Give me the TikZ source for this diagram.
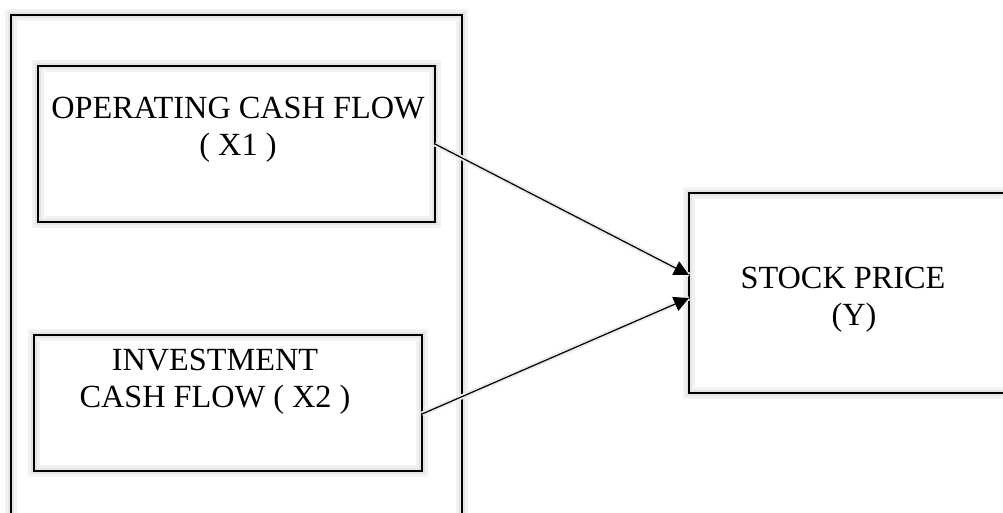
\documentclass[tikz,border=0pt]{standalone}
\usepackage{fontspec}
\setmainfont{Liberation Serif}
\usetikzlibrary{arrows.meta}
\tikzset{
glow/.style={preaction={draw=black!5, line width=12pt}, preaction={draw=black!10, line width=6pt}},
framebox/.style={draw, line width=1.8pt, glow, inner sep=0pt, outer sep=0pt},
boxtext/.style={align=center, anchor=base, font=\fontsize{32.3}{37}\selectfont, inner sep=0pt},
link/.style={line width=1.2pt, -{Triangle[length=15pt,width=15pt]}, preaction={draw=black!8, line width=5pt, -}}
}
\begin{document}
\begin{tikzpicture}[x=1pt, y=-1pt]

    \useasboundingbox (0,0) rectangle (1003,512);
    \fill[white] (0,0) rectangle (1003,512);

    % group frame
    \draw[framebox] (11,15) rectangle (462,530);

    \node[framebox, minimum width=397pt, minimum height=156pt] (ocf) at (236.5,144) {};
    \node[framebox, minimum width=388pt, minimum height=136pt] (icf) at (228,403) {};
    \node[framebox, minimum width=330pt, minimum height=200pt] (sp) at (854,293) {};

    \node[boxtext] (ocftext) at (238,155) {OPERATING CASH FLOW\\( X1 )};
    \node[boxtext] (icftext) at (215,407) {INVESTMENT\\CASH FLOW ( X2 )};
    \node[boxtext] (sptext) at (843,325) {STOCK PRICE\\\hspace*{22pt}(Y)};

    \draw[link] (ocf.east) -- ([yshift=18]sp.west);
    \draw[link] ([yshift=-11]icf.east) -- ([yshift=-5]sp.west);

\end{tikzpicture}
\end{document}
